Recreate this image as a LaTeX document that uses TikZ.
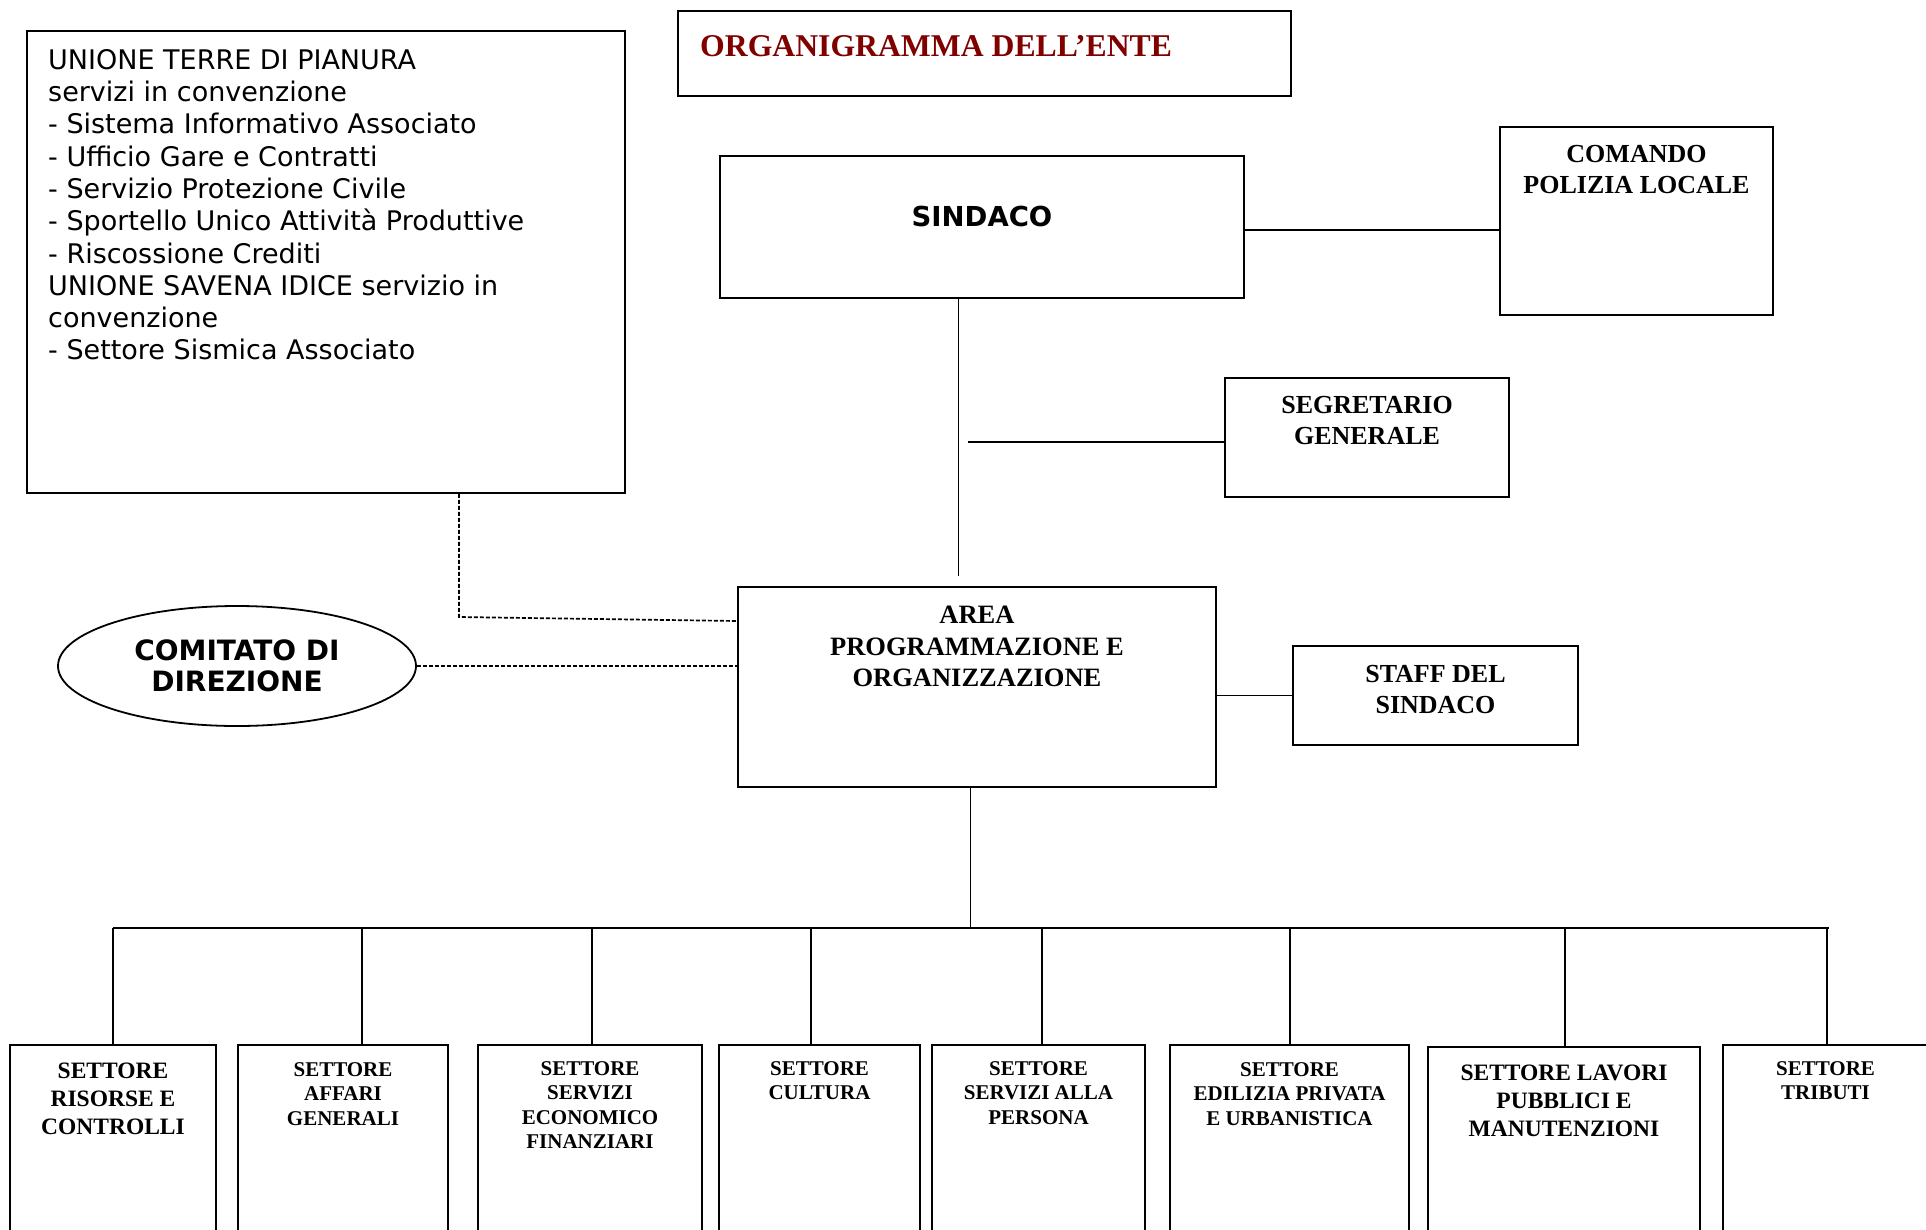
\documentclass[tikz,border=0pt]{standalone}
\usepackage{fontspec}
\setmainfont{Liberation Serif}
\newfontfamily\dvs{DejaVu Sans}
\usetikzlibrary{shapes.geometric}
\definecolor{titlered}{RGB}{128,0,0}
\begin{document}
\begin{tikzpicture}[x=1pt,y=-1pt,
  box/.style={draw, rectangle, line width=1.8pt, inner sep=0pt},
  conn/.style={line width=1.8pt},
  thinconn/.style={line width=1pt},
  dashln/.style={line width=1.7pt, dash pattern=on 4pt off 2pt},
  lblA/.style={font=\bfseries\fontsize{26}{31}\selectfont, align=center, anchor=north, inner sep=0pt},
  lblB/.style={font=\bfseries\fontsize{21}{24.5}\selectfont, align=center, anchor=north, inner sep=0pt},
  lblC/.style={font=\bfseries\fontsize{23.5}{28}\selectfont, align=center, anchor=north, inner sep=0pt}
]
\useasboundingbox (0,0) rectangle (1926,1229);
\fill[white] (0,0) rectangle (1926,1229);
\begin{scope}
\clip (0,0) rectangle (1926,1229);

% upper boxes
\node[box, minimum width=598, minimum height=462] (unione) at (326,262) {};
\node[font=\dvs\fontsize{27}{32.3}\selectfont, align=left, anchor=north west, inner sep=0pt] (unionetxt) at (48,49)
 {UNIONE TERRE DI PIANURA\\ servizi in convenzione\\ - Sistema Informativo Associato\\ - Ufficio Gare e Contratti\\ - Servizio Protezione Civile\\ - Sportello Unico Attivit\`a Produttive\\ - Riscossione Crediti\\ UNIONE SAVENA IDICE servizio in\\ convenzione\\ - Settore Sismica Associato};

\node[box, minimum width=613, minimum height=85] (title) at (984.5,53.5) {};
\node[font=\bfseries\fontsize{31.7}{36}\selectfont, text=titlered, anchor=west, inner sep=0pt] (titletxt) at (700,46.5) {ORGANIGRAMMA DELL’ENTE};

\node[box, minimum width=524, minimum height=142] (sindaco) at (982,227) {};
\node[font=\dvs\bfseries\fontsize{27.5}{31}\selectfont, inner sep=0pt] (sindacotxt) at (982,216) {SINDACO};

\node[box, minimum width=273, minimum height=188] (comando) at (1636.5,221) {};
\node[lblA] (comandotxt) at (1636.5,145) {COMANDO\\POLIZIA LOCALE};

\node[box, minimum width=284, minimum height=119] (segr) at (1367,437.5) {};
\node[lblA] (segrtxt) at (1367,396) {SEGRETARIO\\GENERALE};

\node[box, minimum width=478, minimum height=200] (area) at (977,687) {};
\node[lblA, font=\bfseries\fontsize{26.5}{31.5}\selectfont] (areatxt) at (977,606) {AREA\\PROGRAMMAZIONE E\\ORGANIZZAZIONE};

\node[box, minimum width=285, minimum height=99] (staff) at (1435.5,695.5) {};
\node[lblA] (stafftxt) at (1435.5,665) {STAFF DEL\\SINDACO};

\node[draw, ellipse, line width=1.8pt, minimum width=358, minimum height=120, inner sep=0pt,
      font=\dvs\bfseries\fontsize{28}{31.5}\selectfont, align=center] (com) at (237,666) {COMITATO DI\\DIREZIONE};

% bottom boxes
\node[box, minimum width=206, minimum height=205] (s1) at (113,1147.5) {};
\node[box, minimum width=210, minimum height=205] (s2) at (343,1147.5) {};
\node[box, minimum width=224, minimum height=205] (s3) at (590,1147.5) {};
\node[box, minimum width=201, minimum height=205] (s4) at (819.5,1147.5) {};
\node[box, minimum width=213, minimum height=205] (s5) at (1038.5,1147.5) {};
\node[box, minimum width=239, minimum height=205] (s6) at (1289.5,1147.5) {};
\node[box, minimum width=272, minimum height=205] (s7) at (1564,1149.5) {};
\node[box, minimum width=205, minimum height=205] (s8) at (1825.5,1147.5) {};

\node[lblC] (t1) at (113,1063) {SETTORE\\RISORSE E\\CONTROLLI};
\node[lblB] (t2) at (343,1062) {SETTORE\\AFFARI\\GENERALI};
\node[lblB] (t3) at (590,1061) {SETTORE\\SERVIZI\\ECONOMICO\\FINANZIARI};
\node[lblB] (t4) at (819.5,1061) {SETTORE\\CULTURA};
\node[lblB] (t5) at (1038.5,1061) {SETTORE\\SERVIZI ALLA\\PERSONA};
\node[lblB] (t6) at (1289.5,1062) {SETTORE\\EDILIZIA PRIVATA\\E URBANISTICA};
\node[lblC] (t7) at (1564,1065) {SETTORE LAVORI\\PUBBLICI E\\MANUTENZIONI};
\node[lblB] (t8) at (1825.5,1061) {SETTORE\\TRIBUTI};

% connectors
\coordinate (cy) at (0,230);
\draw[conn] (sindaco.east |- cy) -- (comando.west |- cy);

\coordinate (vEnd) at (958,576);
\draw[thinconn] (sindaco.south -| vEnd) -- (vEnd);

\coordinate (sg) at (968,442);
\draw[line width=1.3pt] (sg) -- (segr.west |- sg);

\draw[conn] (area.east |- staff.west) -- (staff.west);

\coordinate (dk) at (459,617);
\coordinate (dk2) at (0,621);
\draw[dashln] (unione.south -| dk) -- (dk) -- (area.west |- dk2);
\draw[dashln] (com.east) -- (area.west |- com.east);

\coordinate (ad) at (970,928);
\draw[thinconn] (area.south -| ad) -- (ad);

\coordinate (busL) at (113,928);
\coordinate (busR) at (1829,928);
\draw[conn] (busL) -- (busR);

\coordinate (b1) at (113,928);
\coordinate (b2) at (362,928);
\coordinate (b3) at (592,928);
\coordinate (b4) at (811,928);
\coordinate (b5) at (1042,928);
\coordinate (b6) at (1290,928);
\coordinate (b7) at (1565,928);
\coordinate (b8) at (1827,928);
\draw[line width=1.5pt] (b1) -- (b1 |- s1.north);
\draw[line width=1.5pt] (b2) -- (b2 |- s2.north);
\draw[line width=1.5pt] (b3) -- (b3 |- s3.north);
\draw[line width=1.5pt] (b4) -- (b4 |- s4.north);
\draw[line width=1.5pt] (b5) -- (b5 |- s5.north);
\draw[line width=1.5pt] (b6) -- (b6 |- s6.north);
\draw[line width=1.5pt] (b7) -- (b7 |- s7.north);
\draw[line width=1.5pt] (b8) -- (b8 |- s8.north);
\end{scope}
\end{tikzpicture}
\end{document}
